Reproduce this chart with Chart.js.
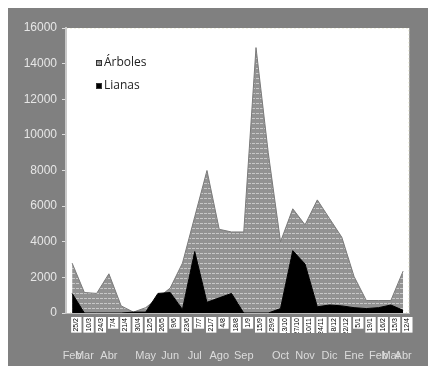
<!DOCTYPE html>
<html>
<head>
<meta charset="utf-8">
<script src="https://cdn.jsdelivr.net/npm/chart.js@4.4.1/dist/chart.umd.min.js"></script>
<style>
    html, body { margin: 0; padding: 0; background: #fff; }
    #frame { position: absolute; left: 8px; top: 8px; width: 420px; height: 358px; background: #808080; }
    canvas { display: block; }
</style>
</head>
<body>
<div id="frame"><canvas id="chart" width="420" height="358"></canvas></div>
<script>
// sampling dates (first row) and month names (second row)
const dayLabels = ['25/2', '10/3', '24/3', '7/4', '21/4', '30/4', '12/5', '26/5', '9/6', '23/6',
    '7/7', '21/7', '4/8', '18/8', '1/9', '15/9', '29/9', '13/10', '27/10', '10/11',
    '24/11', '8/12', '22/12', '5/1', '19/1', '16/2', '15/3', '12/4'];
const monthLabels = ['Feb', 'Mar', '', 'Abr', '', '', 'May', '', 'Jun', '',
    'Jul', '', 'Ago', '', 'Sep', '', '', 'Oct', '', 'Nov',
    '', 'Dic', '', 'Ene', '', 'Feb', 'Mar', 'Abr'];

const arboles = [2800, 1150, 1100, 2200, 400, 50, 300, 850, 1400, 2800,
    5400, 8000, 4700, 4550, 4550, 14900, 9000, 4000, 5850, 4950,
    6350, 5300, 4250, 2050, 700, 700, 700, 2350];
const lianas = [1100, 0, 0, 0, 0, 50, 50, 1100, 1150, 200,
    3450, 600, 850, 1100, 0, 0, 0, 250, 3500, 2750,
    350, 450, 400, 300, 250, 300, 450, 150];

const yTicks = [0, 2000, 4000, 6000, 8000, 10000, 12000, 14000, 16000];

// striped grey fill for Árboles
function stripePattern() {
    const c = document.createElement('canvas');
    c.width = 8;
    c.height = 5;
    const g = c.getContext('2d');
    g.fillStyle = '#929292';
    g.fillRect(0, 0, 8, 5);
    g.fillStyle = '#c8c8c8';
    g.fillRect(0, 0, 3, 1);
    g.fillRect(4, 0, 3, 1);
    return g.createPattern(c, 'repeat');
}

const ctxChart = document.getElementById('chart').getContext('2d');
const arbolesFill = stripePattern();

// white plot area with dotted border
const plotBackground = {
    id: 'plotBackground',
    beforeDraw(chart) {
        const { ctx, chartArea: a } = chart;
        ctx.save();
        ctx.fillStyle = '#ffffff';
        ctx.fillRect(a.left, a.top, a.right - a.left, a.bottom - a.top);
        ctx.strokeStyle = '#e4e4c8';
        ctx.lineWidth = 1;
        ctx.setLineDash([1, 3]);
        ctx.strokeRect(a.left + 0.5, a.top + 0.5, a.right - a.left - 1, a.bottom - a.top - 1);
        ctx.restore();
    }
};

// legend inside the plot, top left
const innerLegend = {
    id: 'innerLegend',
    afterDatasetsDraw(chart) {
        const { ctx, chartArea: a } = chart;
        ctx.save();
        ctx.font = '12px "Open Sans", sans-serif';
        ctx.textBaseline = 'middle';
        chart.data.datasets.forEach((ds, i) => {
            const x = a.left + 30;
            const y = a.top + 35 + i * 23;
            ctx.fillStyle = ds.backgroundColor;
            ctx.fillRect(x, y - 3, 6, 6);
            ctx.strokeStyle = '#333';
            ctx.lineWidth = 1;
            ctx.strokeRect(x + 0.5, y - 2.5, 5, 5);
            ctx.fillStyle = '#222';
            ctx.fillText(ds.label, x + 8, y);
        });
        ctx.restore();
    }
};

new Chart(ctxChart, {
    type: 'line',
    data: {
        labels: dayLabels,
        datasets: [
            {
                label: 'Árboles',
                data: arboles,
                backgroundColor: arbolesFill,
                borderColor: '#7a7a7a',
                borderWidth: 1,
                fill: 'origin',
                pointRadius: 0,
                tension: 0,
                order: 2
            },
            {
                label: 'Lianas',
                data: lianas,
                backgroundColor: '#000000',
                borderColor: '#000000',
                borderWidth: 1,
                fill: 'origin',
                pointRadius: 0,
                tension: 0,
                order: 1
            }
        ]
    },
    options: {
        responsive: false,
        animation: false,
        layout: { padding: { left: 0, top: 20, right: 7, bottom: 0 } },
        plugins: {
            legend: { display: false },
            tooltip: { enabled: false }
        },
        scales: {
            y: {
                min: 0,
                max: 16000,
                afterBuildTicks: (scale) => { scale.ticks = yTicks.map(v => ({ value: v })); },
                afterFit: (scale) => { scale.width = 58; },
                ticks: {
                    color: '#e6e6e6',
                    font: { size: 12, family: 'Arial' },
                    padding: 5,
                    callback: (value) => String(value)
                },
                grid: { drawOnChartArea: false, tickLength: 4, color: '#dddddd' },
                border: { color: '#c8c8c8', width: 2 }
            },
            x: {
                type: 'category',
                offset: true,
                weight: 0,
                afterFit: (scale) => { scale.height = 20; },
                ticks: {
                    autoSkip: false,
                    minRotation: 90,
                    maxRotation: 90,
                    color: '#000000',
                    font: { size: 7, family: 'Arial' },
                    padding: 5,
                    showLabelBackdrop: true,
                    backdropColor: '#ffffff',
                    backdropPadding: 1
                },
                grid: { display: false, drawTicks: false },
                border: { color: '#bbbbbb' }
            },
            x2: {
                type: 'category',
                position: 'bottom',
                labels: monthLabels,
                offset: true,
                weight: 1,
                afterFit: (scale) => { scale.height = 33; },
                ticks: {
                    autoSkip: false,
                    maxRotation: 0,
                    minRotation: 0,
                    color: '#dcdcdc',
                    font: { size: 11, family: 'Arial' },
                    padding: 16
                },
                grid: { display: false, drawTicks: false },
                border: { display: false }
            }
        }
    },
    plugins: [plotBackground, innerLegend]
});
</script>
</body>
</html>
